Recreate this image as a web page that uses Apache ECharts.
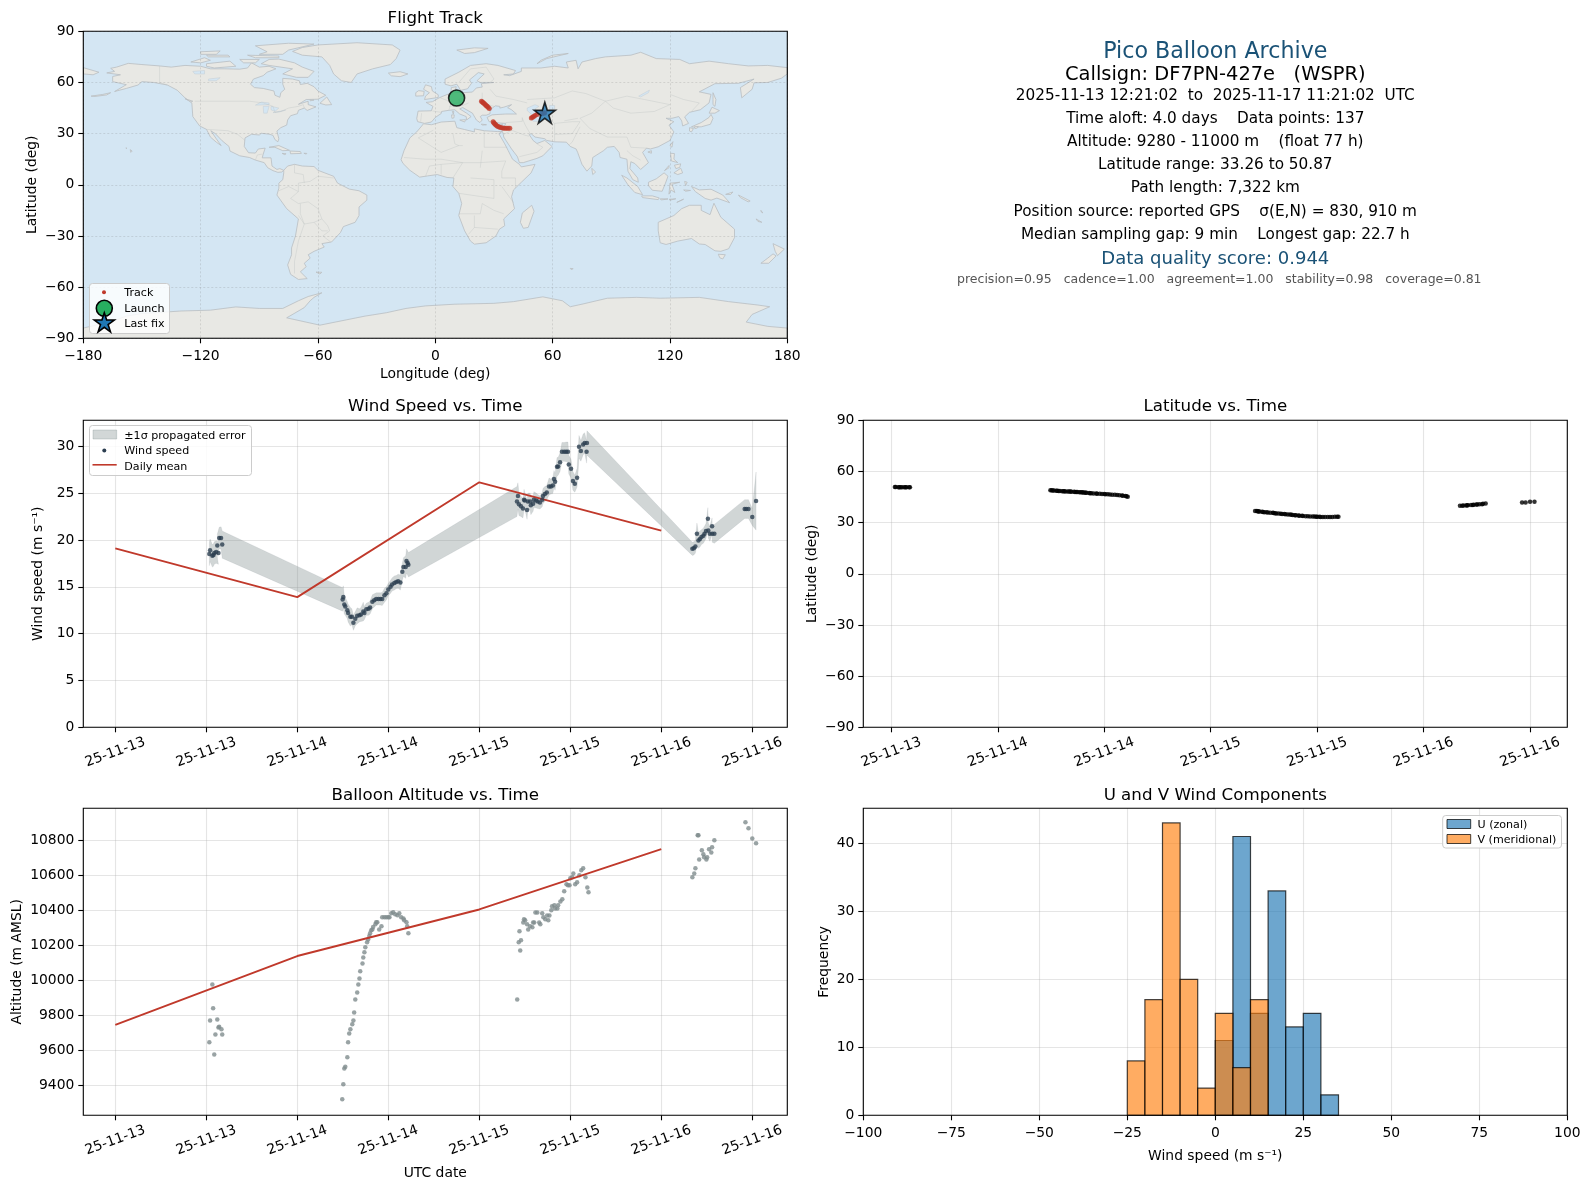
<!DOCTYPE html>
<html><head><meta charset="utf-8"><title>Pico Balloon Archive</title>
<style>html,body{margin:0;padding:0;background:#fff}#c{width:1590px;height:1189px}</style>
<script src="https://cdn.jsdelivr.net/npm/echarts@6/dist/echarts.min.js"></script>
</head><body><div id="c"></div>
<script>
// ---------- time axis ----------
const tickHours = [0,12,24,36,48,60,72,84];
const tickDates = ['25-11-13','25-11-13','25-11-14','25-11-14','25-11-15','25-11-15','25-11-16','25-11-16'];
// ---------- wind speed ----------
const windHours = [12.4,12.5,12.8,12.95,13.05,13.3,13.6,13.45,13.7,13.95,14.1,
 29.98,30.07,30.2,30.33,30.6,30.7,31.0,31.2,31.4,31.65,31.9,32.2,32.4,32.7,32.85,33.1,33.4,33.6,33.9,34.15,34.4,34.7,34.95,35.2,35.5,35.75,36.0,36.3,36.5,36.8,37.05,37.3,37.6,37.85,38.0,38.3,38.4,38.55,38.65,
 52.97,53.1,53.23,53.5,53.76,53.9,54.0,54.3,54.4,54.7,54.8,55.1,55.2,55.5,55.7,56.0,56.3,56.4,56.65,56.9,57.2,57.45,57.7,57.85,58.0,58.25,58.4,58.65,58.9,59.2,59.45,59.7,59.8,60.1,60.35,60.6,60.9,61.15,61.4,61.7,61.9,62.15,62.2,
 76.1,76.3,76.5,76.7,76.9,77.1,77.3,77.55,77.7,77.9,78.15,78.2,78.4,78.7,78.72,79.0,
 83.0,83.2,83.5,84.0,84.5];
const windSpeed = [18.5,18.9,18.3,18.4,18.6,18.7,18.6,19.4,20.2,20.2,19.5,
 13.65,13.9,13.1,12.9,12.5,12.2,11.8,11.8,11.15,11.6,11.9,11.95,12.05,12.35,12.2,12.6,12.65,12.8,13.4,13.55,13.7,13.7,13.7,13.7,14.1,14.3,14.7,15.0,15.25,15.4,15.5,15.6,15.45,16.6,17.1,17.1,17.75,17.55,17.35,
 24.1,24.7,23.8,23.6,23.35,24.3,24.2,23.2,24.1,24.1,23.7,23.85,24.3,24.2,24.1,24.0,24.3,24.7,24.9,25.05,25.7,25.7,25.8,26.5,26.2,27.8,27.85,28.3,29.4,29.4,29.4,29.4,28.05,27.6,26.3,26.0,26.65,29.95,29.5,30.2,30.35,29.4,30.35,
 19.05,19.1,19.3,20.65,19.95,20.1,20.3,20.45,20.65,20.95,22.25,21.0,20.65,21.45,20.65,20.65,
 23.3,23.3,23.3,22.45,24.15];
const windSigma = [1.25,1.2,1.2,1.2,1.2,1.2,1.2,1.2,1.15,1.2,1.45,
 1.25,1.2,1.0,0.95,0.9,0.95,1.0,0.85,0.8,0.75,0.85,0.7,0.75,1.0,0.7,0.65,0.7,0.7,0.75,0.7,0.65,0.65,0.65,0.7,0.75,0.7,0.65,0.7,0.7,0.75,0.7,0.75,0.8,0.9,1.0,1.2,1.3,1.3,1.3,
 1.6,1.4,1.2,1.1,1.0,1.1,0.9,1.0,0.9,0.9,1.0,0.8,0.85,0.8,0.75,0.7,0.75,0.8,0.8,0.75,0.9,0.8,0.85,0.9,0.9,1.0,0.95,1.0,1.0,1.0,1.05,1.05,1.0,1.0,1.0,0.9,1.0,1.2,1.1,1.1,1.1,1.2,1.3,
 0.7,0.7,0.7,1.15,0.85,0.85,0.8,0.8,0.8,0.8,1.2,0.8,0.8,0.9,0.9,1.0,
 1.0,1.0,1.0,0.9,3.1];
const dailyHours = [0,24,48,72];
const dailyWind = [19.1,13.9,26.15,21.0];
const dailyAltitude = [9745,10139,10405,10750];
// ---------- fixes (altitude, latitude) ----------
const fixHours = [12.4,12.5,12.8,12.9,13.05,13.2,13.45,13.6,13.7,14.0,14.1,
 29.93,30.07,30.2,30.33,30.6,30.7,30.85,31.0,31.25,31.4,31.5,31.65,31.9,32.05,32.2,32.3,32.6,32.7,32.85,32.97,33.2,33.35,33.5,33.6,33.75,33.9,34.0,34.3,34.4,34.55,34.8,35.1,35.2,35.5,35.75,36.0,36.15,36.4,36.65,36.9,37.2,37.45,37.7,38.0,38.1,38.4,38.5,38.65,
 53.0,53.2,53.3,53.4,53.5,53.8,53.9,54.05,54.3,54.45,54.7,55.0,55.1,55.25,55.4,55.65,55.9,56.05,56.3,56.45,56.7,56.95,57.1,57.25,57.5,57.6,57.9,58.0,58.3,58.4,58.7,58.95,59.2,59.5,59.7,59.9,60.0,60.25,60.4,60.65,60.9,61.2,61.45,61.7,62.0,62.25,62.4,
 76.1,76.35,76.5,76.8,76.9,77.0,77.35,77.55,77.65,77.95,78.05,78.3,78.6,78.7,79.0,
 83.1,83.5,84.0,84.5];
const altitude = [9646,9771,9977,9840,9577,9691,9777,9731,9735,9720,9691,
 9320,9406,9497,9507,9560,9646,9697,9720,9749,9771,9817,9891,9931,9977,10011,10052,10097,10131,10160,10189,10217,10234,10253,10269,10286,10291,10305,10320,10332,10332,10291,10309,10360,10360,10360,10360,10360,10383,10389,10377,10372,10383,10360,10354,10343,10332,10309,10269,
 9891,10217,10280,10171,10229,10331,10349,10343,10320,10291,10309,10303,10331,10331,10387,10387,10331,10320,10383,10360,10349,10371,10343,10371,10400,10423,10429,10411,10411,10429,10451,10463,10509,10549,10543,10543,10583,10589,10611,10549,10560,10600,10629,10640,10589,10531,10503,
 10589,10611,10640,10829,10829,10691,10743,10720,10703,10691,10703,10749,10731,10760,10800,
 10903,10869,10811,10783];
const latitude = [50.87,50.85,50.8,50.8,50.78,50.75,50.75,50.72,50.7,50.7,50.68,
 49.0,48.95,48.9,48.85,48.75,48.7,48.6,48.5,48.45,48.4,48.35,48.3,48.3,48.25,48.2,48.1,48.05,48.0,47.95,47.9,47.85,47.8,47.75,47.65,47.6,47.5,47.45,47.4,47.3,47.25,47.15,47.1,47.0,46.95,46.85,46.8,46.7,46.6,46.5,46.4,46.3,46.15,46.05,45.9,45.75,45.6,45.4,45.2,
 36.8,36.75,36.7,36.6,36.5,36.4,36.3,36.15,36.05,35.95,35.85,35.75,35.6,35.5,35.4,35.3,35.2,35.1,35.0,34.9,34.8,34.7,34.6,34.5,34.4,34.3,34.2,34.1,34.0,33.9,33.8,33.7,33.65,33.6,33.55,33.5,33.45,33.4,33.35,33.3,33.26,33.26,33.3,33.35,33.4,33.45,33.5,
 39.9,39.95,40.0,40.1,40.15,40.2,40.3,40.4,40.5,40.6,40.7,40.75,40.85,41.0,41.2,
 41.8,41.85,42.3,42.3];
// ---------- histogram ----------
const binStart = [-25,-20,-15,-10,-5,0,5,10,15,20,25,30];
const uCounts = [0,0,0,0,0,11,41,15,33,13,15,3];
const vCounts = [8,17,43,20,4,15,7,17,0,0,0,0];
// ---------- track ----------
const trackLon = [23.6,24.1,24.5,25,25.5,26,26.5,27,27.6,29.6,30,30.5,31,31.6,32.3,33,33.8,34.6,35.4,36.3,37.2,38.1,49.1,49.7,50.3,51,52,54.5,55.5,56];
const trackLat = [49,48.6,48.1,47.6,47.1,46.5,46,45.4,44.8,36.9,36.2,35.6,35,34.5,34.1,33.8,33.5,33.3,33.2,33.2,33.1,33.1,39.2,39.6,40.1,40.6,41.2,41.7,42,42.2];
const launchPoint = [10.9,50.87];
const lastFix = [56,42.2];
// ---------- basemap (lon, lat) ----------
const landPolygons = [
 [[-168,65.6],[-164,66.5],[-166,68.3],[-163,69],[-157,71.2],[-150,70.5],[-141,69.7],[-135,69],[-128,70],[-120,69.5],[-115,68],[-108,68],[-100,67.8],[-96,68.5],[-94,71.5],[-90,69],[-85,69.5],[-81.5,68],[-86,66],[-88,64],[-93,62],[-94.5,59],[-92.5,57],[-88,56.5],[-82.5,55],[-82,52.5],[-79.5,51.3],[-79,54],[-77,56],[-78,59],[-78,62.4],[-73,62],[-69.5,61],[-69,58.8],[-65.5,59.5],[-62,57.5],[-60,55],[-56,52.5],[-60,50.2],[-66,50],[-70,47.2],[-65,49],[-65,47],[-61,45.7],[-65.5,43.6],[-67,45],[-70,43.7],[-70.5,41.7],[-74,40.5],[-75.5,38],[-76,35],[-79,33.5],[-81,31.5],[-80,27],[-80.5,25.2],[-82,26.5],[-83,29],[-85,29.7],[-89,30.2],[-90,29.2],[-94,29.6],[-97.3,27.5],[-97.7,22.5],[-95.5,18.8],[-92,18.6],[-90.5,21],[-87,21.5],[-88,18],[-88.5,15.8],[-84,15.8],[-83.5,11],[-81,9],[-79.5,9.5],[-77.5,8.5],[-78.5,7.5],[-80.5,7.3],[-83,8.3],[-85.7,10],[-87.5,13],[-92,14.5],[-95,16],[-100,17],[-105,19.8],[-105.5,22.5],[-109,25.8],[-112.5,30],[-114.8,31.7],[-112,27],[-109.5,23],[-112,25],[-115,28],[-117,32.5],[-120.5,34.5],[-124,40],[-124.5,48],[-128,51],[-132,55.5],[-137,58.5],[-144,60],[-150,60.5],[-152,58.5],[-158,56.5],[-164,54.7],[-158,58.7],[-165,60.5],[-165,63.5],[-161,64.5]],
 [[-73,78.2],[-68,80.5],[-60,82],[-40,83.3],[-22,82],[-18,79],[-20,74],[-23,70.5],[-32,68],[-40,65],[-43,60],[-48,61],[-52,65],[-54,70],[-58,75],[-68,76]],
 [[-80,73.7],[-72,71.5],[-68,69],[-62,66.5],[-65,63],[-71,63],[-78,65],[-73,68],[-85,70],[-89,71],[-85,73.5]],
 [[-117,71],[-105,72.5],[-102,69.5],[-113,68.5],[-117,69.5]],
 [[-90,76.5],[-78,76.5],[-75,79],[-62,82.5],[-75,83],[-92,81.5],[-86,78]],
 [[-125,72],[-118,74.5],[-115,73],[-120,71.5]],
 [[-96,76],[-80,75.5],[-80,74.5],[-92,74.5]],
 [[-117,76],[-106,76],[-105,75],[-116,75]],
 [[-100,73.5],[-90,73.5],[-92,71.5],[-98,71.5]],
 [[-120,78],[-110,78.5],[-112,76.5],[-120,76.5]],
 [[-59,47.8],[-55.5,51.5],[-53,47],[-56,46.8]],
 [[-64,50],[-62,49.7],[-64,49.2]],
 [[-85,22],[-80,23],[-74.5,20.2],[-78,20],[-82,22]],
 [[-74.3,19.8],[-69,19.5],[-68.5,18.4],[-74,18.2]],
 [[-78.3,18.4],[-76.3,18.2],[-77,17.7]],
 [[-67.2,18.5],[-65.7,18.4],[-66,18]],
 [[-128,50.5],[-124,49],[-125,48.6]],
 [[-156,20.6],[-155,19.8],[-155.7,19]],
 [[-158.2,21.7],[-157.7,21.4],[-158.1,21.3]],
 [[-176,52],[-170,53],[-166,54],[-168,52.7],[-174,51.8]],
 [[-180,65],[-175,64.5],[-172,66],[-180,68.7]],
 [[-77.5,8.5],[-75.5,11],[-72,12],[-68,11],[-62,10.7],[-60,8.5],[-52,5],[-50,1],[-44,-2.5],[-39,-3.5],[-35,-6],[-35,-9],[-39,-13],[-39,-18],[-41,-22],[-47,-24.5],[-48.5,-28],[-53,-33.5],[-58,-34.5],[-56.8,-36.5],[-62,-39],[-65,-41],[-64,-43],[-67,-46],[-66,-48],[-69,-51],[-65.5,-55],[-70,-55.5],[-74,-52.5],[-75.5,-47],[-73.5,-41],[-73.5,-37],[-71.5,-30],[-70,-20],[-76,-14],[-81,-6],[-80,-2],[-80,1],[-78,3],[-77.5,7]],
 [[-61,-51.2],[-58,-51.3],[-59,-52.3]],
 [[-6,35.8],[-2,35.2],[3,36.8],[10,37.3],[11,33.5],[15,32.4],[20,31],[20,32.8],[25,31.7],[32,31.2],[34.3,31.3],[32.5,30],[35.5,24],[37.3,20],[39.5,15],[43,12],[44,10.5],[51,12],[49,7],[44,1.5],[40,-3],[39,-7],[40.5,-14],[35,-20],[35.5,-24],[32.8,-26],[31,-30],[26,-34],[20,-34.8],[18,-33],[15,-27],[12,-18],[13.5,-11],[12,-5],[9,-1],[9.5,4],[6,4.3],[1,6],[-4,5.2],[-8,4.5],[-13,8.5],[-16.5,12.5],[-17.5,14.7],[-16,20],[-13,27.5],[-9.5,31]],
 [[49.3,-12],[50.5,-15.5],[47.5,-25],[45,-25.5],[43.5,-22],[44.5,-16.5]],
 [[-9,37],[-9.5,38.8],[-8.8,43.2],[-2,43.4],[-1.2,46],[-4.7,48.3],[-1.5,48.7],[2,51],[4,52],[8,53.8],[8.2,57],[10.7,57.5],[10,54.5],[14,54],[19,54.4],[21,56.8],[24,57.3],[23.5,59.3],[30,60],[23,60],[21.3,61],[25,65],[22,65.8],[17.5,61.5],[18.5,59.5],[16.5,56.3],[13,55.4],[11,59],[8,58],[5,59],[5,62],[12,66],[18,70],[26,71],[32,70],[41,67],[40,65],[35,64.5],[38,64],[44,66.5],[44,68.5],[54,68.5],[61,69.5],[68,68.5],[67,72],[72,73],[73,68],[75,72],[82,74],[87,75],[100,76],[105,77.7],[113,74],[125,73.5],[130,71],[140,72.5],[150,71],[160,69.7],[170,70],[180,68.7],[180,65],[177,62.5],[170,60],[163,59.8],[162,56],[156.7,51],[156,57],[163,62],[155,59.5],[143,59.3],[135,54.5],[141,53],[140,48],[135.5,44],[130,42.5],[127.5,39.8],[129.5,36],[126.5,34.5],[126,37.5],[124.5,40],[121,39],[118,39],[122,37],[119.5,35],[122,31],[120,26],[114,22.3],[110,21],[108,21.5],[106,19],[109,13],[105,9],[102,12.5],[100,13.5],[99.5,9.5],[103.5,4],[103.8,1.5],[101,3],[98.5,8],[98,15],[94.5,16],[94,19],[91.5,22.5],[88,22],[86,20],[80.5,16],[80,11],[77.5,8],[75,12],[72.8,19],[72,21],[69,22.5],[67,25],[61,25.2],[57,26],[56,27],[51,28],[49,30],[48,29.5],[50,26],[52,24.2],[56,26],[59.7,22.5],[55,17],[52,15.5],[45,13],[43,13],[42,16.5],[39,21],[35,28],[34.8,29.5],[34.3,31.3],[35,33],[36,36],[33,36.2],[30.5,36.7],[27.5,37],[26.5,39.5],[29,41],[31.5,41.2],[36,41.5],[41.5,41.5],[39,44],[37,45.2],[39,47],[35,45.5],[33,45],[33,46],[30.7,46.3],[28,44],[28,41.7],[26,40.8],[24,40.8],[23,40],[24,38],[22.8,36.5],[21,38],[19.5,41],[19,42],[14,45.3],[12.5,44.5],[16,42],[18.3,40],[16,38],[15.8,40],[12.5,41.5],[10,44],[7,43.7],[3.2,43],[3,41.8],[0,39.5],[-2,36.8],[-5.5,36]],
 [[-5.5,50],[1.5,51.2],[1.5,52.8],[-1.5,55],[-2,57.6],[-5,58.6],[-6,56],[-3,54],[-5,52]],
 [[-10,52],[-6,52.2],[-5.7,54.8],[-8.5,55.2],[-10,54]],
 [[-24,65.5],[-18,66.3],[-14,65],[-18,63.4],[-22.5,63.9]],
 [[11,79],[20,80.3],[27,80],[20,77.5],[15,77]],
 [[52,71],[57,74],[68,77],[60,76],[54,73]],
 [[12.5,38],[15.5,38.2],[15,36.8]],
 [[8.3,41],[9.7,41],[9.5,39.2],[8.5,39]],
 [[8.7,43],[9.5,43],[9.2,41.5]],
 [[23.5,35.6],[26.2,35.2],[24,35]],
 [[32.4,35],[34.5,35.6],[33.5,34.7]],
 [[131,34],[136,36.5],[140,39.5],[141,41.3],[142,39],[140.7,35.5],[136,34],[132,33.8]],
 [[130,33.5],[132,33],[131,31],[130,31.5]],
 [[132.5,34],[134.5,34.2],[134,33.3],[132.7,33]],
 [[140,42],[141.5,45.5],[145.3,43.5],[143,42]],
 [[142,54],[143.5,50],[143,46],[142,47],[142,50]],
 [[120,23],[121.5,25.3],[121,22]],
 [[108.7,19.2],[110.5,20],[110.5,18.5]],
 [[80,9.7],[82,7.5],[80.5,6]],
 [[120.3,18.5],[122.3,18.3],[122,15],[124,13],[120.7,14]],
 [[122,7],[125.5,9.7],[126.5,7],[124,6]],
 [[122.3,11.5],[125.5,12.3],[125,10.2],[123,9.5]],
 [[117.2,8.3],[119.5,11.3],[119.5,10]],
 [[109,1.5],[113,3.5],[117,7],[119,5],[117.7,1],[116,-3.8],[111,-3.2],[109,-0.5]],
 [[95.3,5.6],[98,4],[103.5,-1],[106,-5.8],[102,-4.5],[98.5,0]],
 [[105.5,-6.5],[111,-6.5],[114.5,-7.7],[114,-8.7],[106,-7.5]],
 [[119.5,-5.5],[120,1],[125,1.5],[121,0.3],[122.5,-4.5],[120.5,-3]],
 [[127.5,2],[128,-0.5],[128.8,1.5]],
 [[127,-3],[130.5,-3.3],[128,-3.8]],
 [[115,-8.2],[119,-8.3],[115.5,-8.9]],
 [[119.5,-8.5],[123,-8.2],[120,-9]],
 [[123.5,-10.3],[127,-8.4],[125,-9.5]],
 [[131,-1],[135,-3],[141,-2.6],[147,-6],[150.5,-10.5],[144,-7.8],[141,-9],[138,-8],[133,-4]],
 [[148.5,-5.6],[152.2,-4.2],[151,-5.7]],
 [[155,-6],[161,-9.5],[160,-10],[156,-7.5]],
 [[166.5,-15],[167.5,-16.5],[166.7,-16]],
 [[164,-20],[167,-22],[165,-21.5]],
 [[114,-22],[122,-18],[126,-14],[130,-12],[136,-12],[136,-15],[140.5,-17.5],[142.5,-10.8],[146,-19],[153,-26],[153,-31],[150,-37.5],[146,-39],[143,-38.7],[138,-35],[135,-34.7],[131,-31.5],[124,-33],[118,-35],[115,-34],[114,-27]],
 [[144.7,-40.7],[148.3,-41],[147,-43.5],[145.5,-42.8]],
 [[172.7,-34.5],[178.5,-37.7],[175,-41.5],[173.8,-39]],
 [[172.7,-40.5],[174.3,-41.7],[170.5,-46],[166.5,-46],[170,-43]],
 [[69,-49],[70.5,-49.2],[69.5,-49.7]],
 [[-180,-90],[-180,-84],[-165,-80],[-158,-77],[-150,-75.5],[-130,-74],[-115,-73.5],[-102,-71.6],[-90,-72.5],[-78,-72.5],[-70,-68],[-65,-65.5],[-58,-63.3],[-62,-66],[-64,-68],[-67,-72],[-76,-78],[-59,-82.3],[-36,-77],[-25,-75],[-15,-72.5],[-5,-71],[10,-70],[30,-69.5],[40,-68.5],[55,-65.7],[65,-68],[69,-71.5],[75,-70],[88,-66.5],[103,-66],[115,-66.5],[135,-66],[150,-68.5],[165,-70.5],[171,-71.5],[162,-76],[159,-80.5],[170,-83],[180,-84],[180,-90]]
];
const waterPolygons = [
 [[47,45],[51,47],[53,46],[51,44.5],[53,41.5],[54,37],[50,37.3],[49,39],[49.5,41],[47,43.5]],
 [[58.5,46.5],[61,46.5],[61,44.5],[58.5,44]],
 [[-92,46.7],[-85,47],[-85,48],[-89,48.5]],
 [[-88,46],[-85,46],[-86,42],[-87.8,42]],
 [[-84,46],[-80,45],[-82,43],[-84,44]],
 [[-83,42.3],[-79,43.2],[-76.5,43.8],[-79.5,42.8]],
 [[-124,66.5],[-118,67],[-118,65],[-123,65]],
 [[-116,62],[-110,62.8],[-112,61],[-116,61]],
 [[104,52],[109.5,55.5],[109,54],[105,51.5]]
];
const borderLines = [
 [[-141,69.7],[-141,60],[-137,58.5]],
 [[-123,49],[-95,49],[-88,48],[-83,46],[-82,42.5],[-79,43],[-75,45],[-70,46],[-67.5,47],[-67,45]],
 [[-117,32.5],[-106,31.7],[-101,29.5],[-97.3,26]],
 [[-92,14.5],[-91,17.5],[-88.5,18]],
 [[-52,4],[-60,5],[-64,2],[-70,1],[-70,-4],[-74,-8],[-70,-11],[-65,-10],[-60,-14],[-58,-20],[-55,-24],[-54,-27],[-57.5,-30],[-53.5,-33.5]],
 [[-70,-18],[-67,-23],[-70,-33],[-72,-45],[-72,-52]],
 [[-72,12],[-72,7],[-67.5,6],[-67,1]],
 [[-80,-3.5],[-75,-1],[-70,-4]],
 [[-69,-11],[-69,-17],[-67,-23],[-62,-22],[-58,-20]],
 [[-62,-22],[-58,-27],[-55,-27]],
 [[-8.7,27.5],[-1,32]],[[9,30],[10,24],[12,23],[14,23]],[[25,31.5],[25,22]],[[25,22],[36.8,22]],
 [[-8.7,27.5],[3,19],[12,23]],[[24,20],[23,10]],[[3,12],[14,13]],[[12,-5],[30,-8],[30,3],[18,4]],
 [[12,-17],[23,-17],[24,-11]],[[34,4],[41,4],[41,-2]],[[34,-1],[40,-10.5]],[[17,-29],[20,-25],[32,-26]],[[36,14],[34,8],[34,4]],
 [[-16,16],[-5,15],[3,15],[14,13],[23,13],[36,14]],[[-5,5],[-3,11],[3,12],[3,6]],[[9,4],[14,13]],[[24,-11],[30,-15],[35,-17]],[[20,-18],[20,-25]],
 [[28,56],[31,52],[40,50],[47,48]],[[47,50],[61,51],[70,55],[77,53.5],[87,49]],
 [[87,49],[98,52],[107,50],[120,47],[112,43],[100,42],[91,45],[87,49]],
 [[120,53],[127,50],[135,48],[131,43]],[[87,49],[80,42],[74,39],[79,33],[88,28],[98,28],[100,22],[108,21.5]],
 [[44.5,39],[46,35],[48.5,30]],[[61,36],[61,25.2]],[[61,36],[70,37],[74,37],[70,30],[61,29.5]],[[74,34],[70,25],[68.5,23.5]],
 [[36,36.5],[44.5,37.2],[44.5,39.5]],[[35,29.5],[39,32],[46,29],[48,28.5]],[[43,16.5],[52,19],[55,22],[52,24]],
 [[2.5,51],[6,49.5],[8,47.5],[7,44]],[[14,54],[15,51],[12,50],[13,48],[8,47.5]],[[7,46],[14,46.5],[17,48]],[[24,54],[24,48],[30,46]],[[-7,42],[-7.5,37]],[[-1.5,43.3],[3,42.5]],
 [[12,60],[18,68],[26,69]],[[26,69],[30,62],[28,60]],[[98,20],[101,17],[105,14.5]],[[52,41],[56,41],[61,36]],[[56,45],[52,41.5]],[[73,39],[66,37.5]]
];
const panelLines = [
 ['2025-11-13 12:21:02  to  2025-11-17 11:21:02  UTC',95.5],
 ['Time aloft: 4.0 days    Data points: 137',119],
 ['Altitude: 9280 - 11000 m    (float 77 h)',141.5],
 ['Latitude range: 33.26 to 50.87',165],
 ['Path length: 7,322 km',188],
 ['Position source: reported GPS    σ(E,N) = 830, 910 m',211.5],
 ['Median sampling gap: 9 min    Longest gap: 22.7 h',235]
];
// ---------- style ----------
const FONT='"DejaVu Sans"';
const TICK=13.89, LAB=13.89, TTL=16.67, LEG=11.1;
const INK='#000', GRID='rgba(176,176,176,0.33)', RED='#c0392b';
const STAR='path://M0,-10L2.245,-3.09L9.51,-3.09L3.633,1.18L5.88,8.09L0,3.82L-5.88,8.09L-3.633,1.18L-9.51,-3.09L-2.245,-3.09Z';
const starUnit=[[0,-10],[2.245,-3.09],[9.51,-3.09],[3.633,1.18],[5.88,8.09],[0,3.82],[-5.88,8.09],[-3.633,1.18],[-9.51,-3.09],[-2.245,-3.09]];
const L=83.3, R=863.3, W=704, H=307;
const T1=31.3, T2=420.3, T3=808.3;
const minus=v=>String(v).replace('-','\u2212');
const dateLabel=v=>tickDates[tickHours.indexOf(v)]||'';
const noLine={show:false,onZero:false};

function xTime(gi,min,max,name){return {type:'value',gridIndex:gi,min,max,
  axisLine:noLine,axisTick:{show:true,length:5,lineStyle:{color:INK,width:1.1},customValues:tickHours.filter(h=>h>=min&&h<=max)},
  splitLine:{show:true,lineStyle:{color:GRID,width:1.1}},
  axisLabel:{customValues:tickHours.filter(h=>h>=min&&h<=max),formatter:dateLabel,rotate:20,align:'center',verticalAlign:'middle',margin:25,color:INK,fontFamily:FONT,fontSize:TICK,hideOverlap:false},
  name,nameLocation:'middle',nameGap:51,nameTextStyle:{color:INK,fontFamily:FONT,fontSize:LAB}};}
function yVal(gi,min,max,ticks,name,gap){return {type:'value',gridIndex:gi,min,max,
  axisLine:noLine,axisTick:{show:true,length:5,lineStyle:{color:INK,width:1.1},customValues:ticks},
  splitLine:{show:true,lineStyle:{color:GRID,width:1.1}},
  axisLabel:{customValues:ticks,formatter:minus,margin:9,padding:[2,0,0,0],color:INK,fontFamily:FONT,fontSize:TICK},
  name,nameLocation:'middle',nameRotate:90,nameGap:gap,nameTextStyle:{color:INK,fontFamily:FONT,fontSize:LAB}};}
function frame(gi){return {type:'custom',xAxisIndex:gi,yAxisIndex:gi,silent:true,z:20,clip:false,data:[[0,0]],
  renderItem:(p)=>({type:'rect',shape:{x:p.coordSys.x,y:p.coordSys.y,width:p.coordSys.width,height:p.coordSys.height},style:{fill:'none',stroke:INK,lineWidth:1.1}})};}
function polySeries(name,polys,fill,stroke,lw,z){return {type:'custom',name,xAxisIndex:0,yAxisIndex:0,silent:true,z,clip:true,
  data:polys.map((p,i)=>[p[0][0],p[0][1],i]),encode:{x:0,y:1},
  renderItem:(params,api)=>({type:'polygon',shape:{points:polys[api.value(2)].map(c=>api.coord(c))},style:{fill,stroke,lineWidth:lw}})};}
function histSeries(name,counts,fill){return {type:'custom',name,xAxisIndex:4,yAxisIndex:4,silent:true,z:fill.includes('255,127')?3:2,
  data:binStart.map((s,i)=>[s,counts[i],s+5]).filter(d=>d[1]>0),encode:{x:[0,2],y:1},
  renderItem:(params,api)=>{const a=api.coord([api.value(0),api.value(1)]),b=api.coord([api.value(2),0]);
    return {type:'rect',shape:{x:a[0],y:a[1],width:b[0]-a[0],height:b[1]-a[1]},style:{fill,stroke:'rgba(0,0,0,0.72)',lineWidth:1.2}};}};}
const zip=(a,b)=>a.map((v,i)=>[v,b[i]]);
const ttl=(text,left,top)=>({text,left,top,textAlign:'center',padding:0,textStyle:{fontFamily:FONT,fontSize:TTL,fontWeight:'normal',color:INK}});
const ptxt=(text,cy,size,color,cx)=>({text,left:cx||1215.3,top:cy-size*0.47,textAlign:'center',padding:0,textStyle:{fontFamily:FONT,fontSize:size,fontWeight:'normal',color}});

const titles=[ttl('Flight Track',L+W/2,10),ttl('Wind Speed vs. Time',L+W/2,398.5),ttl('Latitude vs. Time',R+W/2,398.5),ttl('Balloon Altitude vs. Time',L+W/2,787),ttl('U and V Wind Components',R+W/2,787),
 ptxt('Pico Balloon Archive',52,22.2,'#1a5276'),ptxt('Callsign: DF7PN-427e   (WSPR)',74.5,19.44,INK)]
 .concat(panelLines.map(l=>ptxt(l[0],l[1],15.28,INK)))
 .concat([ptxt('Data quality score: 0.944',259,18.05,'#1a5276'),ptxt('precision=0.95   cadence=1.00   agreement=1.00   stability=0.98   coverage=0.81',279.5,12.5,'#555555',1219.3)]);

// legends
const gz=101;
const box=(x,y,w,h)=>({type:'rect',z:100,shape:{x,y,width:w,height:h,r:3},style:{fill:'rgba(255,255,255,0.82)',stroke:'#cccccc',lineWidth:1}});
const ltext=(t,x,cy)=>({type:'text',z:gz,x,y:cy,style:{text:t,fontFamily:FONT,fontSize:LEG,fill:INK,verticalAlign:'middle',textVerticalAlign:'middle'}});
const dot=(x,y,r,fill,stroke,lw)=>({type:'circle',z:gz,shape:{cx:x,cy:y,r},style:{fill,stroke:stroke||'none',lineWidth:lw||0}});
const graphics=[
 box(89.5,283.5,80,50),dot(104,292.3,2,RED),ltext('Track',124.3,293.5),
 dot(104.3,308.3,8,'#27ae60','#000',1.6),ltext('Launch',124.3,309.5),
 {type:'polygon',z:gz,shape:{points:starUnit.map(p=>[104.3+p[0]*1.05,323.3+p[1]*1.05])},style:{fill:'#1f77b4',stroke:'#000',lineWidth:1.6}},ltext('Last fix',124.3,324.5),
 box(89.5,425.5,162,50),
 {type:'rect',z:gz,shape:{x:93,y:430,width:23.7,height:9},style:{fill:'rgba(127,140,141,0.35)',stroke:'rgba(127,140,141,0.3)',lineWidth:1}},ltext('\u00b11\u03c3 propagated error',124.3,436),
 dot(104.3,450.5,2,'#2c3e50'),ltext('Wind speed',124.3,451.5),
 {type:'line',z:gz,shape:{x1:92.5,y1:464.8,x2:116.7,y2:464.8},style:{stroke:RED,lineWidth:1.6}},ltext('Daily mean',124.3,467),
 box(1442.7,815.5,118.8,32.5),
 {type:'rect',z:gz,shape:{x:1447,y:819.5,width:23.7,height:9},style:{fill:'rgba(31,119,180,0.65)',stroke:'rgba(0,0,0,0.72)',lineWidth:1}},ltext('U (zonal)',1477.5,825),
 {type:'rect',z:gz,shape:{x:1447,y:834.5,width:23.7,height:9},style:{fill:'rgba(255,127,14,0.65)',stroke:'rgba(0,0,0,0.72)',lineWidth:1}},ltext('V (meridional)',1477.5,840)
];

const mapGrid={show:true,lineStyle:{color:'rgba(110,110,110,0.28)',width:0.7,type:[2,2]}};
const mapX={type:'value',gridIndex:0,min:-180,max:180,interval:60,z:6,axisLine:noLine,axisTick:{show:true,length:5,lineStyle:{color:INK,width:1.1}},
 splitLine:mapGrid,
 axisLabel:{formatter:minus,margin:11,color:INK,fontFamily:FONT,fontSize:TICK,showMinLabel:true,showMaxLabel:true},
 name:'Longitude (deg)',nameLocation:'middle',nameGap:29,nameTextStyle:{color:INK,fontFamily:FONT,fontSize:LAB}};
const mapY={type:'value',gridIndex:0,min:-90,max:90,interval:30,z:6,axisLine:noLine,axisTick:{show:true,length:5,lineStyle:{color:INK,width:1.1}},
 splitLine:mapGrid,
 axisLabel:{formatter:minus,margin:9,padding:[2,0,0,0],color:INK,fontFamily:FONT,fontSize:TICK},
 name:'Latitude (deg)',nameLocation:'middle',nameRotate:90,nameGap:44,nameTextStyle:{color:INK,fontFamily:FONT,fontSize:LAB}};

const option={animation:false,backgroundColor:'#fff',textStyle:{fontFamily:FONT},title:titles,graphic:{elements:graphics},
 grid:[
  {left:L,top:T1,width:W,height:H,show:true,backgroundColor:'#d4e6f3',borderWidth:0},
  {left:L,top:T2,width:W,height:H},
  {left:R,top:T2,width:W,height:H},
  {left:L,top:T3,width:W,height:H},
  {left:R,top:T3,width:W,height:H}],
 xAxis:[mapX,
  xTime(1,-4.22,88.62,''),
  xTime(2,8.84,88.2,''),
  xTime(3,-4.22,88.62,'UTC date'),
  {type:'value',gridIndex:4,min:-100,max:100,interval:25,axisLine:noLine,axisTick:{show:true,length:5,lineStyle:{color:INK,width:1.1}},
   splitLine:{show:true,lineStyle:{color:GRID,width:1.1}},axisLabel:{formatter:minus,margin:11,color:INK,fontFamily:FONT,fontSize:TICK},
   name:'Wind speed (m s\u207b\u00b9)',nameLocation:'middle',nameGap:34,nameTextStyle:{color:INK,fontFamily:FONT,fontSize:LAB}}],
 yAxis:[mapY,
  yVal(1,0,32.77,[0,5,10,15,20,25,30],'Wind speed (m s\u207b\u00b9)',38),
  yVal(2,-90,90,[-90,-60,-30,0,30,60,90],'Latitude (deg)',44),
  yVal(3,9229,10983,[9400,9600,9800,10000,10200,10400,10600,10800],'Altitude (m AMSL)',59),
  yVal(4,0,45.15,[0,10,20,30,40],'Frequency',32)],
 series:[
  polySeries('Land',landPolygons,'#e8e8e4','#b9bec2',0.8,1),
  polySeries('Lakes',waterPolygons,'#d4e6f3','#c4ccd2',0.5,2),
  {type:'custom',name:'Borders',xAxisIndex:0,yAxisIndex:0,silent:true,z:3,clip:true,
   data:borderLines.map((p,i)=>[p[0][0],p[0][1],i]),encode:{x:0,y:1},
   renderItem:(params,api)=>({type:'polyline',shape:{points:borderLines[api.value(2)].map(c=>api.coord(c))},style:{fill:'none',stroke:'rgba(185,190,190,0.55)',lineWidth:0.6}})},
  {type:'scatter',name:'Track',xAxisIndex:0,yAxisIndex:0,z:8,symbolSize:5,silent:true,data:zip(trackLon,trackLat),itemStyle:{color:RED}},
  {type:'scatter',name:'Launch',xAxisIndex:0,yAxisIndex:0,z:9,symbolSize:16,silent:true,data:[launchPoint],itemStyle:{color:'#27ae60',borderColor:'#000',borderWidth:1.6}},
  {type:'scatter',name:'Last fix',xAxisIndex:0,yAxisIndex:0,z:10,symbol:STAR,symbolSize:21,silent:true,data:[lastFix],itemStyle:{color:'#1f77b4',borderColor:'#000',borderWidth:1.6}},
  {type:'custom',name:'\u00b11\u03c3 propagated error',xAxisIndex:1,yAxisIndex:1,silent:true,z:2,clip:true,
   data:[[windHours[0],windSpeed[0]]],encode:{x:0,y:1},
   renderItem:(params,api)=>{
    const up=windHours.map((h,i)=>api.coord([h,windSpeed[i]+windSigma[i]]));
    const lo=windHours.map((h,i)=>api.coord([h,windSpeed[i]-windSigma[i]])).reverse();
    return {type:'polygon',shape:{points:up.concat(lo)},style:{fill:'rgba(127,140,141,0.36)',stroke:'rgba(127,140,141,0.2)',lineWidth:0.6}};}},
  {type:'line',name:'Daily mean',xAxisIndex:1,yAxisIndex:1,z:4,showSymbol:false,silent:true,data:zip(dailyHours,dailyWind),lineStyle:{color:RED,width:1.9}},
  {type:'scatter',name:'Wind speed',xAxisIndex:1,yAxisIndex:1,z:5,symbolSize:4.5,silent:true,data:zip(windHours,windSpeed),itemStyle:{color:'#2c3e50'}},
  {type:'scatter',name:'Latitude',xAxisIndex:2,yAxisIndex:2,z:5,symbolSize:4.5,silent:true,data:zip(fixHours,latitude),itemStyle:{color:'#000'}},
  {type:'scatter',name:'Altitude',xAxisIndex:3,yAxisIndex:3,z:3,symbolSize:4.5,silent:true,data:zip(fixHours,altitude),itemStyle:{color:'#7f8c8d'}},
  {type:'line',name:'Daily altitude',xAxisIndex:3,yAxisIndex:3,z:4,showSymbol:false,silent:true,data:zip(dailyHours,dailyAltitude),lineStyle:{color:RED,width:1.9}},
  histSeries('U (zonal)',uCounts,'rgba(31,119,180,0.65)'),
  histSeries('V (meridional)',vCounts,'rgba(255,127,14,0.65)'),
  frame(0),frame(1),frame(2),frame(3),frame(4)
 ]};
echarts.init(document.getElementById('c')).setOption(option);
</script></body></html>
